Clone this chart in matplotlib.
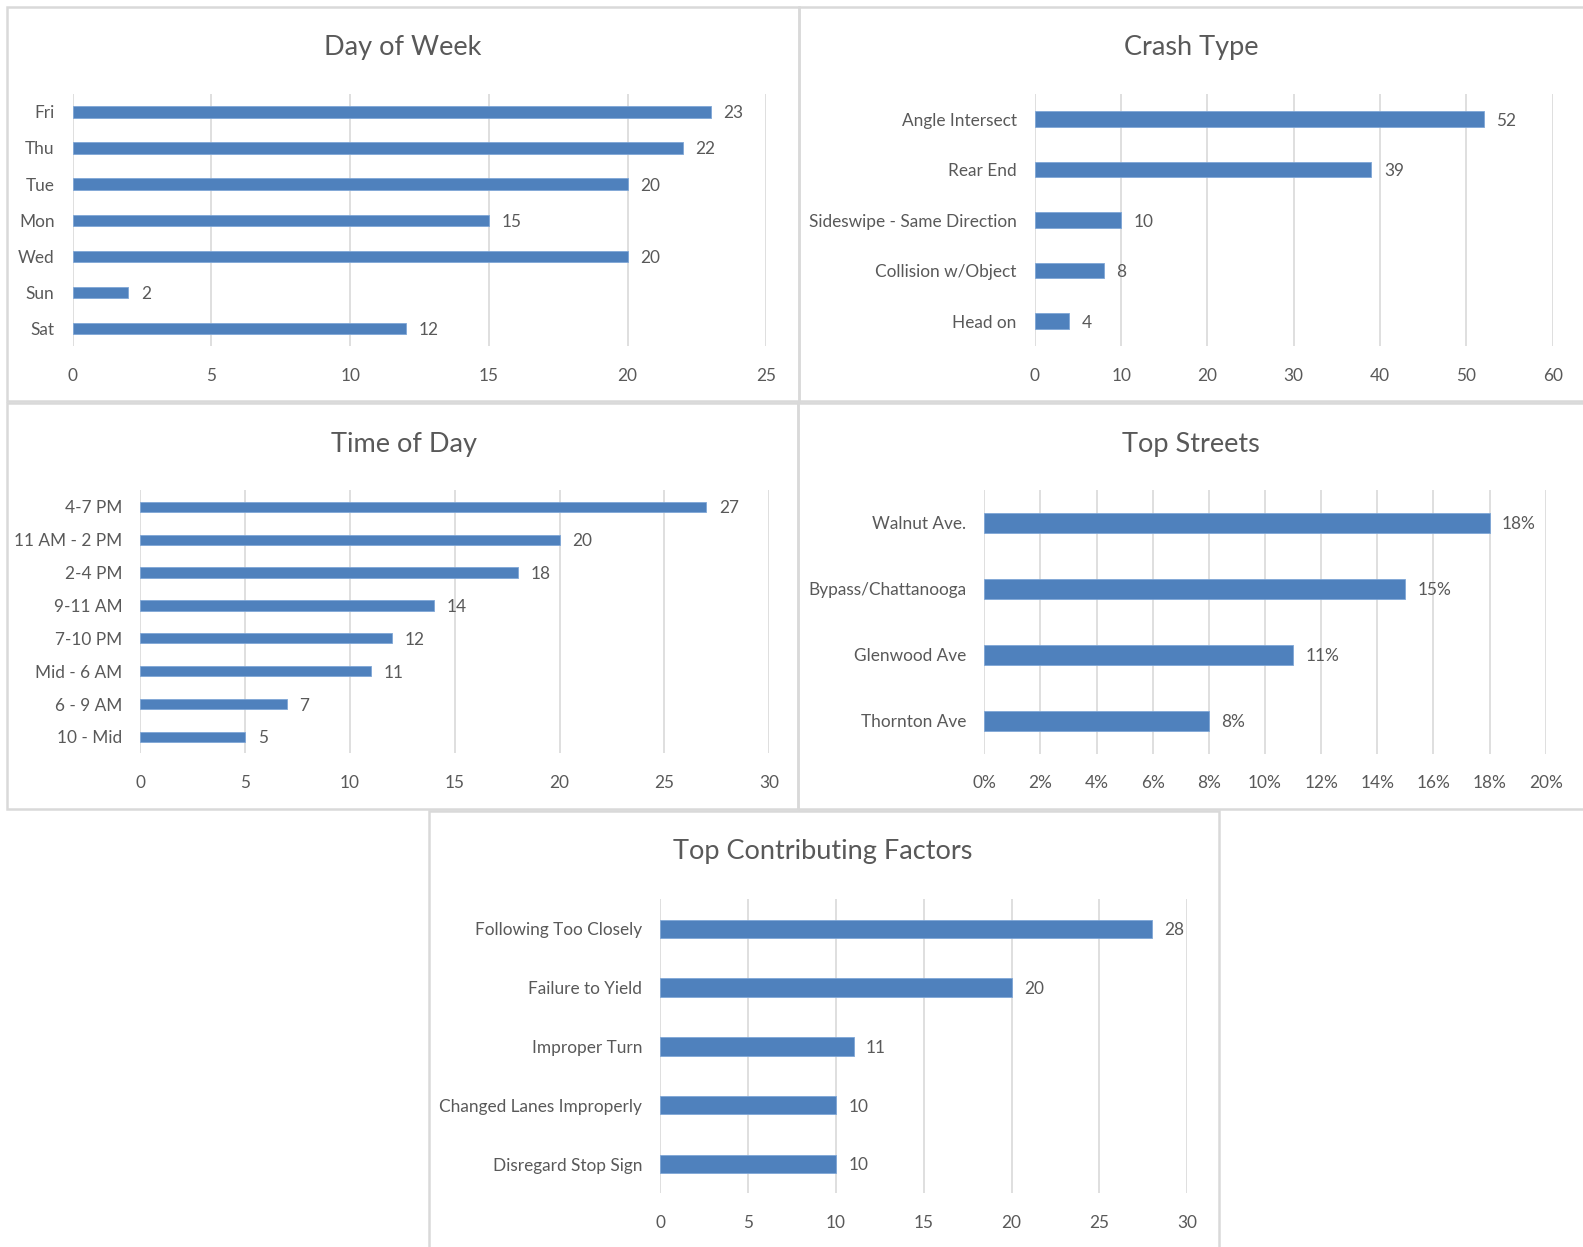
import matplotlib
matplotlib.use("Agg")
import matplotlib.pyplot as plt
from matplotlib.patches import Rectangle
from matplotlib.ticker import FuncFormatter

plt.rcParams['font.family'] = ['Lato', 'DejaVu Sans']

# ---------------- data ----------------
day_labels = ["Fri", "Thu", "Tue", "Mon", "Wed", "Sun", "Sat"]
day_values = [23, 22, 20, 15, 20, 2, 12]

crash_labels = ["Angle Intersect", "Rear End", "Sideswipe - Same Direction",
                "Collision w/Object", "Head on"]
crash_values = [52, 39, 10, 8, 4]

time_labels = ["4-7 PM", "11 AM - 2 PM", "2-4 PM", "9-11 AM", "7-10 PM",
               "Mid - 6 AM", "6 - 9 AM", "10 - Mid"]
time_values = [27, 20, 18, 14, 12, 11, 7, 5]

street_labels = ["Walnut Ave.", "Bypass/Chattanooga", "Glenwood Ave", "Thornton Ave"]
street_values = [0.18, 0.15, 0.11, 0.08]

factor_labels = ["Following Too Closely", "Failure to Yield", "Improper Turn",
                 "Changed Lanes Improperly", "Disregard Stop Sign"]
factor_values = [28, 20, 11, 10, 10]

# ---------------- layout ----------------
W, H = 1583, 1247
fig = plt.figure(figsize=(W / 100, H / 100), dpi=100)
fig.patch.set_facecolor("white")

BAR = "#4f81bd"
TXT = "#595959"
GRID = "#d9d9d9"
FS = 12.4


def rect(l, t, r, b):
    return [l / W, 1 - b / H, (r - l) / W, (b - t) / H]


def panel(l, t, r, b):
    fig.patches.append(Rectangle((l / W, 1 - b / H), (r - l) / W, (b - t) / H,
                                 transform=fig.transFigure, fill=False,
                                 edgecolor="#d9d9d9", linewidth=1.8, zorder=0))


def chart(box, labels, values, xmax, step, title, tcx, tcy, pct=False):
    ax = fig.add_axes(rect(*box))
    n = len(labels)
    ys = list(range(n))
    ax.barh(ys, values, height=0.31, color=BAR, edgecolor="#7fa6d6",
            linewidth=0.6, zorder=3)
    ax.set_ylim(n - 0.5, -0.5)
    ax.set_xlim(0, xmax)
    ticks = []
    v = 0
    while v <= xmax + 1e-9:
        ticks.append(v)
        v += step
    ax.set_xticks(ticks)
    ax.set_yticks(ys)
    ax.set_yticklabels(labels)
    if pct:
        ax.xaxis.set_major_formatter(FuncFormatter(lambda x, p: f"{x*100:.0f}%"))
    ax.grid(axis="x", color=GRID, linewidth=1.2, zorder=0)
    ax.set_axisbelow(True)
    for s in ax.spines.values():
        s.set_visible(False)
    ax.tick_params(axis="both", length=0, labelsize=FS, colors=TXT)
    ax.tick_params(axis="x", pad=15.5)
    ax.tick_params(axis="y", pad=13)
    for y, val in zip(ys, values):
        txt = f"{val*100:.0f}%" if pct else f"{val}"
        ax.annotate(txt, (val, y), xytext=(9, 0), textcoords="offset points",
                    va="center_baseline", ha="left", fontsize=FS, color=TXT)
    fig.text(tcx / W, 1 - tcy / H, title, ha="center", va="center",
             fontsize=19.5, color=TXT)
    return ax


# panels
panel(7, 7, 799, 401)
panel(799, 7, 1590, 401)
panel(7, 403, 798, 809)
panel(798, 403, 1590, 809)
panel(429, 811, 1219, 1255)

chart((72.7, 93.9, 766.3, 346.3), day_labels, day_values, 25, 5,
      "Day of Week", 403, 47)
chart((1034.8, 93.9, 1552.7, 346.3), crash_labels, crash_values, 60, 10,
      "Crash Type", 1191, 47)
chart((140.3, 490.4, 769.3, 753.4), time_labels, time_values, 30, 5,
      "Time of Day", 404, 444)
chart((984.3, 490.0, 1545.7, 753.8), street_labels, street_values, 0.20, 0.02,
      "Top Streets", 1191, 444, pct=True)
chart((660.3, 899.4, 1187.3, 1193.4), factor_labels, factor_values, 30, 5,
      "Top Contributing Factors", 823, 852)

fig.savefig("out.png", dpi=100, facecolor="white")
